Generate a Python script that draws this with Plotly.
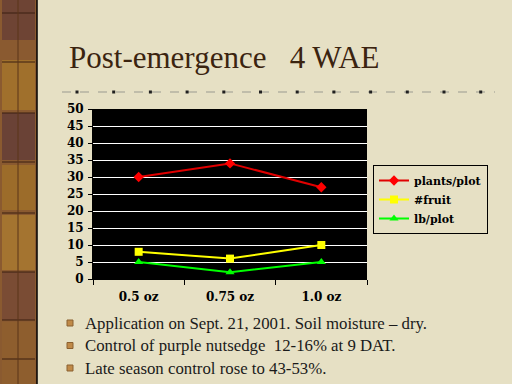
import plotly.graph_objects as go

categories = ["0.5 oz", "0.75 oz", "1.0 oz"]
plants_plot = [30, 34, 27]
fruit = [8, 6, 10]
lb_plot = [5, 2, 5]
y_ticks = [0, 5, 10, 15, 20, 25, 30, 35, 40, 45, 50]
bullets = [
    "Application on Sept. 21, 2001. Soil moisture \u2013 dry.",
    "Control of purple nutsedge  12-16% at 9 DAT.",
    "Late season control rose to 43-53%.",
]
title_text = "Post-emergence   4 WAE"

W, H = 512, 384
L, R, T, B = 93, 145, 109, 105
PW, PH = W - L - R, H - T - B

SERIF = "'Liberation Serif', 'Times New Roman', Times, serif"
BSERIF = "'DejaVu Serif', 'Liberation Serif', serif"

def px_x(x):
    return (x - L) / PW

def px_y(y):
    return (H - B - y) / PH

fig = go.Figure()
fig.add_trace(go.Scatter(x=categories, y=plants_plot, name="plants/plot", mode="lines+markers",
                         line=dict(color="#E00000", width=2),
                         marker=dict(symbol="diamond", size=8, color="#FF0000")))
fig.add_trace(go.Scatter(x=categories, y=fruit, name="#fruit", mode="lines+markers",
                         line=dict(color="#FFFF00", width=2),
                         marker=dict(symbol="square", size=8, color="#FFFF00")))
fig.add_trace(go.Scatter(x=categories, y=lb_plot, name="lb/plot", mode="lines+markers",
                         line=dict(color="#00FF00", width=2),
                         marker=dict(symbol="triangle-up", size=8, color="#00FF00")))

tickfont = dict(family=BSERIF, size=12, color="black", weight="bold")

shapes = []
# left decorative strip
shapes.append(dict(type="rect", xref="paper", yref="paper", x0=px_x(0), x1=px_x(37), y0=px_y(384), y1=px_y(0),
                   fillcolor="#8A5A30", line=dict(width=0), layer="below"))
for i, (y0, y1, c) in enumerate([(0, 40, "#6E4434"), (60, 110, "#A0702C"), (113, 160, "#6A4236"),
                                  (165, 210, "#9C6C2A"), (215, 270, "#A47430"), (272, 320, "#7A4C34"),
                                  (322, 384, "#8E5E2E")]):
    shapes.append(dict(type="rect", xref="paper", yref="paper", x0=px_x(2), x1=px_x(35), y0=px_y(y1), y1=px_y(y0),
                       fillcolor=c, line=dict(width=0), layer="below"))
for yy in [13, 62, 113, 162, 213, 272, 320, 359]:
    shapes.append(dict(type="line", xref="paper", yref="paper", x0=px_x(2), x1=px_x(35), y0=px_y(yy), y1=px_y(yy),
                       line=dict(color="#3A1E10", width=1)))
shapes.append(dict(type="line", xref="paper", yref="paper", x0=px_x(18), x1=px_x(18), y0=px_y(384), y1=px_y(0),
                   line=dict(color="#5A3418", width=1)))
shapes.append(dict(type="line", xref="paper", yref="paper", x0=px_x(37), x1=px_x(37), y0=px_y(384), y1=px_y(0),
                   line=dict(color="black", width=1.5)))
# dashed separator
shapes.append(dict(type="line", xref="paper", yref="paper", x0=px_x(62), x1=px_x(495), y0=px_y(92), y1=px_y(92),
                   line=dict(color="#9A9A90", width=1, dash="dash")))
for k in range(12):
    cx = 77 + k * 36.7
    shapes.append(dict(type="rect", xref="paper", yref="paper", x0=px_x(cx - 1.5), x1=px_x(cx + 1.5),
                       y0=px_y(93.5), y1=px_y(90.5), fillcolor="#202020", line=dict(width=0)))
# bullets
for i in range(len(bullets)):
    cy = 323 + i * 22.5
    shapes.append(dict(type="rect", xref="paper", yref="paper", x0=px_x(67), x1=px_x(73),
                       y0=px_y(cy + 3), y1=px_y(cy - 3), fillcolor="#C08A48", line=dict(color="#8A6030", width=1)))

annotations = [dict(text=title_text, xref="paper", yref="paper", x=px_x(67), y=px_y(58), xanchor="left",
                    yanchor="middle", showarrow=False,
                    font=dict(family=SERIF, size=31, color="#3B2410"))]
for i, t in enumerate(bullets):
    annotations.append(dict(text=t, xref="paper", yref="paper", x=px_x(83), y=px_y(323 + i * 22.5),
                            xanchor="left", yanchor="middle", showarrow=False,
                            font=dict(family=SERIF, size=16.8, color="#1A1A1A")))

fig.update_layout(
    width=W, height=H,
    margin=dict(l=L, r=R, t=T, b=B, pad=0),
    paper_bgcolor="#E6E0C4",
    plot_bgcolor="black",
    showlegend=True,
    legend=dict(x=px_x(373), y=px_y(165), xanchor="left", yanchor="top",
                bgcolor="rgba(0,0,0,0)", bordercolor="black", borderwidth=1,
                font=dict(family=BSERIF, size=11, color="black", weight="bold"),
                itemwidth=30, tracegroupgap=0),
    xaxis=dict(type="category", tickson="boundaries", ticks="outside", ticklen=5, tickcolor="black",
               showgrid=False, showline=True, linecolor="black", tickfont=tickfont,
               ticklabelstandoff=7, range=[-0.5, 2.5]),
    yaxis=dict(range=[0, 50], tickvals=y_ticks, ticks="outside", ticklen=4, tickcolor="black",
               showgrid=True, gridcolor="white", gridwidth=1, showline=True, linecolor="black",
               zeroline=False, tickfont=tickfont, ticklabelstandoff=2),
    shapes=shapes,
    annotations=annotations,
)

fig.write_html("out.html", config={"displayModeBar": False},
               post_script="document.body.style.margin='0';document.body.style.overflow='hidden';")
